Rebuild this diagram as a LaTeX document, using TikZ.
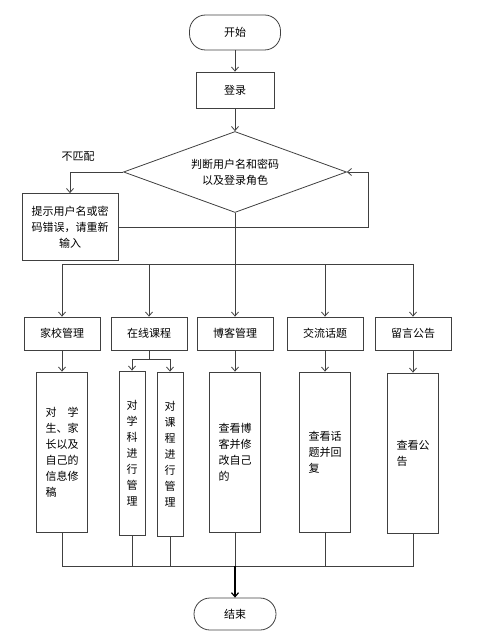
\documentclass[tikz,border=0pt]{standalone}
\usepackage{fontspec}
\setmainfont{Noto Sans CJK SC}
\usetikzlibrary{shapes.geometric,arrows.meta}
\begin{document}
\begin{tikzpicture}[
					x=1pt, y=-1pt,
					every node/.style={font=\fontsize{11}{16}\selectfont, inner sep=0pt},
					box/.style={draw=black!75, line width=0.8pt, minimum width=76pt, minimum height=33pt},
					terminal/.style={box, rounded corners=16pt},
					tall/.style={box, minimum width=51pt, minimum height=160pt, align=left},
					thin/.style={box, minimum width=26pt, minimum height=164pt, align=center},
					line/.style={draw=black!75, line width=0.8pt},
					arr/.style={line, -{Straight Barb[length=4pt,width=7pt]}}
				]
				\useasboundingbox (0,0) rectangle (494,639);
				\node[terminal, minimum width=91pt, minimum height=35pt] (start) at (235,32.5) {开始};
				\node[box, minimum width=78pt, minimum height=36pt] (login) at (235,90) {登录};
				\node[draw=black!75, line width=0.8pt, diamond, aspect=2.75, minimum width=223pt, minimum height=81pt, align=center] (judge) at (235,172) {判断用户名和密码\\以及登录角色};
				\node (nomatch) at (78,157) {不匹配};
				\node[box, minimum width=96pt, minimum height=67pt, align=center] (error) at (70,227) {提示用户名或密\\码错误，请重新\\输入};
				\node[box] (m1) at (62,333.5) {家校管理};
				\node[box] (m2) at (149,333.5) {在线课程};
				\node[box] (m3) at (235,333.5) {博客管理};
				\node[box] (m4) at (325,333.5) {交流话题};
				\node[box] (m5) at (413,333.5) {留言公告};
				\node[tall] (d1) at (62,452) {对　学\\生、家\\长以及\\自己的\\信息修\\稿};
				\node[thin] (d2a) at (132,453) {对\\学\\科\\进\\行\\管\\理};
				\node[thin] (d2b) at (170,454) {对\\课\\程\\进\\行\\管\\理};
				\node[tall] (d3) at (235,452) {查看博\\客并修\\改自己\\的};
				\node[tall] (d4) at (325,452) {查看话\\题并回\\复};
				\node[tall] (d5) at (413,453) {查看公\\告};
				\node[terminal, minimum width=82pt, minimum height=32pt] (end) at (235,614) {结束};
				\coordinate (back) at (368,172);
				\coordinate (bus) at (235,264);
				\coordinate (split) at (149,359);
				\coordinate (join) at (235,566);
				\draw[arr] (start) -- (login);
				\draw[arr] (login) -- (judge);
				\draw[arr] (judge.west) -| (error.north);
				\draw[arr] (error.east) -| (back) -- (judge.east);
				\draw[line] (judge.south) -- (bus);
				\draw[arr] (bus) -| (m1.north);
				\draw[arr] (bus) -| (m2.north);
				\draw[arr] (bus) -- (m3.north);
				\draw[arr] (bus) -| (m4.north);
				\draw[arr] (bus) -| (m5.north);
				\draw[arr] (m1) -- (d1);
				\draw[line] (m2) -- (split);
				\draw[arr] (split) -| (d2a.north);
				\draw[arr] (split) -| (d2b.north);
				\draw[arr] (m3) -- (d3);
				\draw[arr] (m4) -- (d4);
				\draw[arr] (m5) -- (d5);
				\draw[line] (d1.south) |- (join);
				\draw[line] (d2a.south) |- (join);
				\draw[line] (d2b.south) |- (join);
				\draw[line] (d4.south) |- (join);
				\draw[line] (d5.south) |- (join);
				\draw[line] (d3.south) -- (join);
				\draw[arr, draw=black, line width=1.2pt] (join) -- (end);
			\end{tikzpicture}
\end{document}
